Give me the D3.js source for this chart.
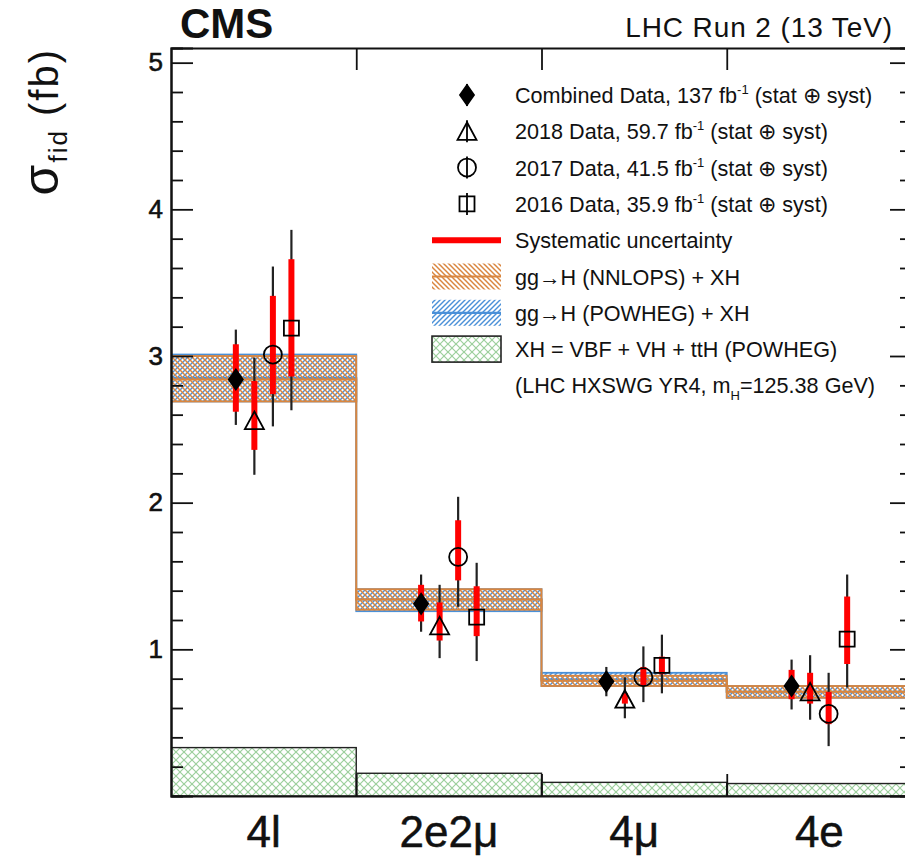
<!DOCTYPE html>
<html>
<head>
<meta charset="utf-8">
<script src="https://cdn.jsdelivr.net/npm/d3@7"></script>
<style>
body { margin: 0; background: #fff; }
text { font-family: "Liberation Sans", Arial, Helvetica, sans-serif; fill: #111; }
</style>
</head>
<body>
<div id="chart"></div>
<script>
// Fiducial cross sections per final state

var categories = ["4l", "2e2\u03bc", "4\u03bc", "4e"];
var series = ["Combined", "2018", "2017", "2016"];

// measured values, total (stat+syst) errors [down, up], systematic errors [down, up]
var combVal = [2.84, 1.31, 0.78, 0.75];
var combTot = [[0.31, 0.34], [0.19, 0.20], [0.10, 0.10], [0.16, 0.18]];
var combSys = [[0.22, 0.24], [0.12, 0.13], [0.05, 0.05], [0.09, 0.11]];

var v2018Val = [2.56, 1.16, 0.66, 0.71];
var v2018Tot = [[0.37, 0.43], [0.22, 0.28], [0.13, 0.15], [0.19, 0.25]];
var v2018Sys = [[0.20, 0.27], [0.10, 0.16], [0.03, 0.04], [0.08, 0.13]];

var v2017Val = [3.01, 1.63, 0.81, 0.56];
var v2017Tot = [[0.49, 0.60], [0.34, 0.41], [0.17, 0.21], [0.22, 0.28]];
var v2017Sys = [[0.27, 0.40], [0.16, 0.25], [0.06, 0.07], [0.07, 0.15]];

var v2016Val = [3.19, 1.22, 0.89, 1.07];
var v2016Tot = [[0.56, 0.67], [0.30, 0.37], [0.19, 0.21], [0.33, 0.44]];
var v2016Sys = [[0.33, 0.47], [0.13, 0.21], [0.06, 0.06], [0.17, 0.29]];

// theory predictions
var nnlopsVal = [2.84, 1.34, 0.785, 0.71];
var nnlopsErr = [[0.15, 0.16], [0.07, 0.07], [0.035, 0.035], [0.04, 0.04]];
var powhegVal = [2.85, 1.34, 0.795, 0.71];
var powhegErr = [[0.16, 0.16], [0.08, 0.07], [0.045, 0.045], [0.04, 0.04]];
var xhVal = [0.33, 0.155, 0.093, 0.085];

var yMajor = [1, 2, 3, 4, 5];

var width = 905, height = 857;
var margin = { top: 48, right: -7, bottom: 61, left: 171 };

var svg = d3.select("#chart").append("svg")
    .attr("width", width)
    .attr("height", height);

var defs = svg.append("defs");

function hatch(id, color, dirs, size, sw) {
  var p = defs.append("pattern")
      .attr("id", id)
      .attr("patternUnits", "userSpaceOnUse")
      .attr("width", size).attr("height", size);
  dirs.forEach(function(d) {
    var segs = d == "\\"
      ? [[-1, -1, size + 1, size + 1], [-1, size - 1, 1, size + 1], [size - 1, -1, size + 1, 1]]
      : [[-1, size + 1, size + 1, -1], [-1, 1, 1, -1], [size - 1, size + 1, size + 1, size - 1]];
    segs.forEach(function(s) {
      p.append("line")
        .attr("x1", s[0]).attr("y1", s[1]).attr("x2", s[2]).attr("y2", s[3])
        .attr("stroke", color).attr("stroke-width", sw);
    });
  });
}
var orange = "#d9863f", blue = "#4a90d8", green = "#9ccf9c";
hatch("hatchOrange", orange, ["\\"], 5, 1.5);
hatch("hatchBlue", blue, ["/"], 5, 1.4);
hatch("hatchGreen", green, ["\\", "/"], 8, 1.2);

defs.append("clipPath").attr("id", "plotClip")
  .append("rect")
  .attr("x", margin.left).attr("y", margin.top)
  .attr("width", width - margin.right - margin.left)
  .attr("height", height - margin.bottom - margin.top);

// Scales
var xScale = d3.scaleBand()
    .domain(categories)
    .range([margin.left, width - margin.right]);

var xInner = d3.scalePoint()
    .domain(series)
    .range([xScale.bandwidth() * 0.35, xScale.bandwidth() * 0.65]);

var xEdge = d3.scaleLinear()
    .domain([0, categories.length])
    .range(xScale.range());

var yScale = d3.scaleLinear()
    .domain([0, 5.1])
    .range([height - margin.bottom, margin.top]);

var minor = d3.range(1, 26).map(function(i) { return i / 5; })
    .filter(function(v) { return Math.abs(v - Math.round(v)) > 1e-6; });

var plot = svg.append("g").attr("clip-path", "url(#plotClip)");

// XH contribution
plot.selectAll(".xh").data(xhVal).enter().append("rect")
    .attr("x", function(d, i) { return xScale(categories[i]); })
    .attr("y", function(d) { return yScale(d); })
    .attr("width", xScale.bandwidth())
    .attr("height", function(d) { return yScale(0) - yScale(d); })
    .attr("fill", "url(#hatchGreen)")
    .attr("stroke", "#222").attr("stroke-width", 1.4);

// ggH + XH bands
function band(vals, errs, color, pat) {
  plot.selectAll(null).data(vals).enter().append("rect")
      .attr("x", function(d, i) { return xScale(categories[i]); })
      .attr("y", function(d, i) { return yScale(d + errs[i][1]); })
      .attr("width", xScale.bandwidth())
      .attr("height", function(d, i) { return yScale(d - errs[i][0]) - yScale(d + errs[i][1]); })
      .attr("fill", "url(#" + pat + ")")
      .attr("stroke", color).attr("stroke-width", 1.8);
  var pts = vals.map(function(d, i) { return [xEdge(i), yScale(d)]; });
  pts.push([xEdge(vals.length), yScale(vals[vals.length - 1])]);
  plot.append("path")
      .attr("d", d3.line().curve(d3.curveStepAfter)(pts))
      .attr("fill", "none")
      .attr("stroke", color).attr("stroke-width", 2);
}
band(powhegVal, powhegErr, blue, "hatchBlue");
band(nnlopsVal, nnlopsErr, orange, "hatchOrange");

// Axes
function frameAxis(axis, tr) {
  var g = svg.append("g").attr("transform", tr).call(axis);
  g.select(".domain").attr("stroke", "#111").attr("stroke-width", 2);
  g.selectAll(".tick line").attr("stroke", "#111").attr("stroke-width", 1.8);
  return g;
}
var yAxis = frameAxis(d3.axisLeft(yScale).tickValues(yMajor).tickSize(-22).tickPadding(8)
    .tickFormat(d3.format("d")), "translate(" + margin.left + ",0)");
yAxis.selectAll("text").style("font-size", "26px").style("fill", "#111")
    .style("stroke", "#111").style("stroke-width", 0.6);
frameAxis(d3.axisLeft(yScale).tickValues(minor).tickSize(-12).tickFormat(""),
    "translate(" + margin.left + ",0)");
frameAxis(d3.axisRight(yScale).tickValues(yMajor).tickSize(-22).tickFormat(""),
    "translate(" + (width - margin.right) + ",0)");
frameAxis(d3.axisRight(yScale).tickValues(minor).tickSize(-12).tickFormat(""),
    "translate(" + (width - margin.right) + ",0)");
frameAxis(d3.axisBottom(xEdge).tickValues([1, 2, 3]).tickSize(-22).tickSizeOuter(0).tickFormat(""),
    "translate(0," + yScale(0) + ")");
frameAxis(d3.axisTop(xEdge).tickValues([1, 2, 3]).tickSize(-22).tickSizeOuter(0).tickFormat(""),
    "translate(0," + margin.top + ")");

// category labels
svg.selectAll(".cat").data(categories).enter().append("text")
    .attr("x", function(d) { return xScale(d) + xScale.bandwidth() / 2; })
    .attr("y", 847)
    .attr("text-anchor", "middle")
    .style("font-size", "44px")
    .style("stroke", "#111").style("stroke-width", 0.5)
    .text(function(d) { return d; });

// Marker shapes
function marker(kind) {
  var p = d3.path();
  if (kind == "diamond") {
    p.moveTo(0, -10); p.lineTo(7, 0); p.lineTo(0, 10); p.lineTo(-7, 0); p.closePath();
  } else if (kind == "triangle") {
    p.moveTo(0, -9); p.lineTo(9.5, 8.5); p.lineTo(-9.5, 8.5); p.closePath();
  } else if (kind == "circle") {
    p.moveTo(9, 0); p.arc(0, 0, 9, 0, 2 * Math.PI);
  } else {
    p.rect(-7.5, -7.5, 15, 15);
  }
  return p.toString();
}

var measurements = [
  { name: "Combined", val: combVal, tot: combTot, sys: combSys, shape: "diamond" },
  { name: "2018", val: v2018Val, tot: v2018Tot, sys: v2018Sys, shape: "triangle" },
  { name: "2017", val: v2017Val, tot: v2017Tot, sys: v2017Sys, shape: "circle" },
  { name: "2016", val: v2016Val, tot: v2016Tot, sys: v2016Sys, shape: "square" }
];

measurements.forEach(function(m) {
  var g = svg.append("g");
  var px = function(i) { return xScale(categories[i]) + xInner(m.name); };
  g.selectAll(".tot").data(m.val).enter().append("line")
      .attr("x1", function(d, i) { return px(i); })
      .attr("x2", function(d, i) { return px(i); })
      .attr("y1", function(d, i) { return yScale(d + m.tot[i][1]); })
      .attr("y2", function(d, i) { return yScale(d - m.tot[i][0]); })
      .attr("stroke", "#222").attr("stroke-width", 2.2);
  g.selectAll(".sys").data(m.val).enter().append("line")
      .attr("x1", function(d, i) { return px(i); })
      .attr("x2", function(d, i) { return px(i); })
      .attr("y1", function(d, i) { return yScale(d + m.sys[i][1]); })
      .attr("y2", function(d, i) { return yScale(d - m.sys[i][0]); })
      .attr("stroke", "#ff0000").attr("stroke-width", 6);
  g.selectAll(".mk").data(m.val).enter().append("path")
      .attr("d", marker(m.shape))
      .attr("transform", function(d, i) { return "translate(" + px(i) + "," + yScale(d) + ")"; })
      .attr("fill", m.shape == "diamond" ? "#000" : "none")
      .attr("stroke", "#000").attr("stroke-width", 1.8);
});

// Legend
var legendLabels = [
  ["Combined Data, 137 fb", "-1", " (stat \u2295 syst)"],
  ["2018 Data, 59.7 fb", "-1", " (stat \u2295 syst)"],
  ["2017 Data, 41.5 fb", "-1", " (stat \u2295 syst)"],
  ["2016 Data, 35.9 fb", "-1", " (stat \u2295 syst)"],
  ["Systematic uncertainty"],
  ["gg\u2192H (NNLOPS) + XH"],
  ["gg\u2192H (POWHEG) + XH"],
  ["XH = VBF + VH + ttH (POWHEG)"]
];
var legX = 432, legY = 95, legStep = 36.3;
var leg = svg.append("g");

legendLabels.forEach(function(lab, i) {
  var cy = legY + i * legStep;
  var t = leg.append("text").attr("x", 515).attr("y", cy + 8).style("font-size", "21.6px");
  t.append("tspan").text(lab[0]);
  if (lab.length > 1) {
    t.append("tspan").attr("dy", -9).style("font-size", "13px").text(lab[1]);
    t.append("tspan").attr("dy", 9).text(lab[2]);
  }
  if (i < 4) {
    leg.append("line").attr("x1", 467).attr("x2", 467).attr("y1", cy - 11).attr("y2", cy + 11)
        .attr("stroke", "#000").attr("stroke-width", 1.8);
    leg.append("path").attr("d", marker(measurements[i].shape))
        .attr("transform", "translate(467," + cy + ")")
        .attr("fill", i == 0 ? "#000" : "none")
        .attr("stroke", "#000").attr("stroke-width", 1.8);
  } else if (i == 4) {
    leg.append("line").attr("x1", legX).attr("x2", legX + 69).attr("y1", cy).attr("y2", cy)
        .attr("stroke", "#ff0000").attr("stroke-width", 6);
  } else if (i < 7) {
    var col = i == 5 ? orange : blue;
    leg.append("rect").attr("x", legX).attr("y", cy - 13).attr("width", 69).attr("height", 26)
        .attr("fill", "url(#" + (i == 5 ? "hatchOrange" : "hatchBlue") + ")");
    leg.append("line").attr("x1", legX).attr("x2", legX + 69).attr("y1", cy).attr("y2", cy)
        .attr("stroke", col).attr("stroke-width", 2.2);
  } else {
    leg.append("rect").attr("x", legX).attr("y", cy - 13).attr("width", 69).attr("height", 26)
        .attr("fill", "url(#hatchGreen)").attr("stroke", "#222").attr("stroke-width", 1.6);
  }
});
var note = leg.append("text").attr("x", 515).attr("y", legY + 8 * legStep + 8).style("font-size", "21.6px");
note.append("tspan").text("(LHC HXSWG YR4, m");
note.append("tspan").attr("dy", 7).style("font-size", "13px").text("H");
note.append("tspan").attr("dy", -7).text("=125.38 GeV)");

// Titles
svg.append("text").attr("x", 180).attr("y", 38)
    .style("font-size", "42px").style("font-weight", "bold").text("CMS");
svg.append("text").attr("x", 893).attr("y", 37).attr("text-anchor", "end")
    .style("font-size", "28px").style("letter-spacing", "0.9px").text("LHC Run 2 (13 TeV)");

var yTitle = svg.append("text")
    .attr("transform", "translate(58," + margin.top + ") rotate(-90)")
    .attr("text-anchor", "end")
    .style("font-size", "40px")
    .style("letter-spacing", "2px");
yTitle.append("tspan").style("font-size", "50px").text("\u03c3");
yTitle.append("tspan").attr("dy", 9).style("font-size", "26px").text("fid");
yTitle.append("tspan").attr("dy", -9).text(" (fb)");
</script>
</body>
</html>
